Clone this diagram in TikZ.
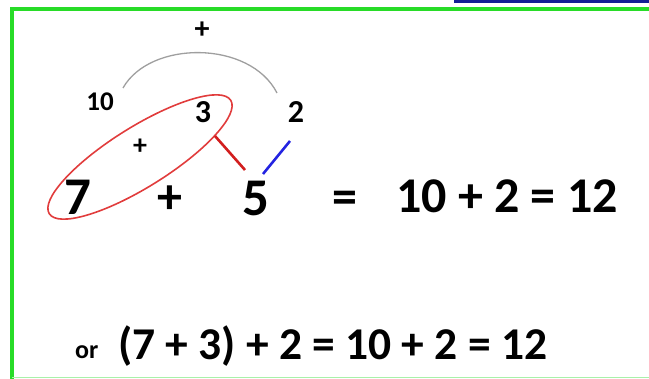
\documentclass[tikz,border=0pt]{standalone}
\usepackage{fontspec}
\setmainfont{Carlito}
\usetikzlibrary{shapes.geometric}

\definecolor{framegreen}{RGB}{40,220,40}
\definecolor{boxblue}{RGB}{20,30,150}
\definecolor{ringred}{RGB}{225,60,60}
\definecolor{linkred}{RGB}{210,30,30}
\definecolor{linkblue}{RGB}{35,35,225}

\begin{document}
\begin{tikzpicture}[
  x=1pt, y=-1pt,
  num/.style={anchor=base, inner sep=0pt, font=\bfseries\fontsize{#1}{#1}\selectfont},
  frame/.style={draw=framegreen, line width=4pt},
  ring/.style={draw=ringred, line width=1.6pt, ellipse, minimum width=214pt, minimum height=60pt},
  link/.style={line width=2.6pt},
  bridge/.style={draw=gray!75, line width=1.3pt}
]
\useasboundingbox (0,0) rectangle (649,379);

\draw[frame] (12,380) -- (12,9.5) -- (650,9.5);
\draw[framegreen!40, line width=1.5pt] (12,377.5) -- (650,377.5);
\draw[boxblue, line width=3pt] (455,-1) -- (455,1.5) -- (650,1.5);

\node[num=30] (topplus) at (202,39) {+};
\node[num=27] (ten) at (100,111) {10};
\node[num=32] (three) at (203,123) {3};
\node[num=32] (two) at (296,123) {2};
\node[num=28] (midplus) at (140,155) {+};

\node[num=53] (seven) at (78,215) {7};
\node[num=50] (plus) at (170,214) {+};
\node[num=53] (five) at (256,216) {5};
\node[num=50] (eq) at (345,214) {=};
\node[num=50] (sum) at (507,213) {10 + 2 = 12};

\node[ring, rotate=32] (pair) at (140,157) {};

\coordinate (arcL) at (123,88);
\coordinate (arcR) at (277,93);
\coordinate (cut) at (215,136);
\coordinate (fiveL) at (245,170);
\coordinate (fiveR) at (263,174);
\coordinate (twofoot) at (290,141);

\draw[bridge] (arcL) .. controls (150,40) and (250,40) .. (arcR);
\draw[link, linkred] (cut) -- (fiveL);
\draw[link, linkblue] (fiveR) -- (twofoot);

\node[num=26, anchor=base west] (orword) at (75,359) {or};
\node[num=45.5, anchor=base west] (alt) at (118,360) {(7 + 3) + 2 = 10 + 2 = 12};
\end{tikzpicture}
\end{document}
